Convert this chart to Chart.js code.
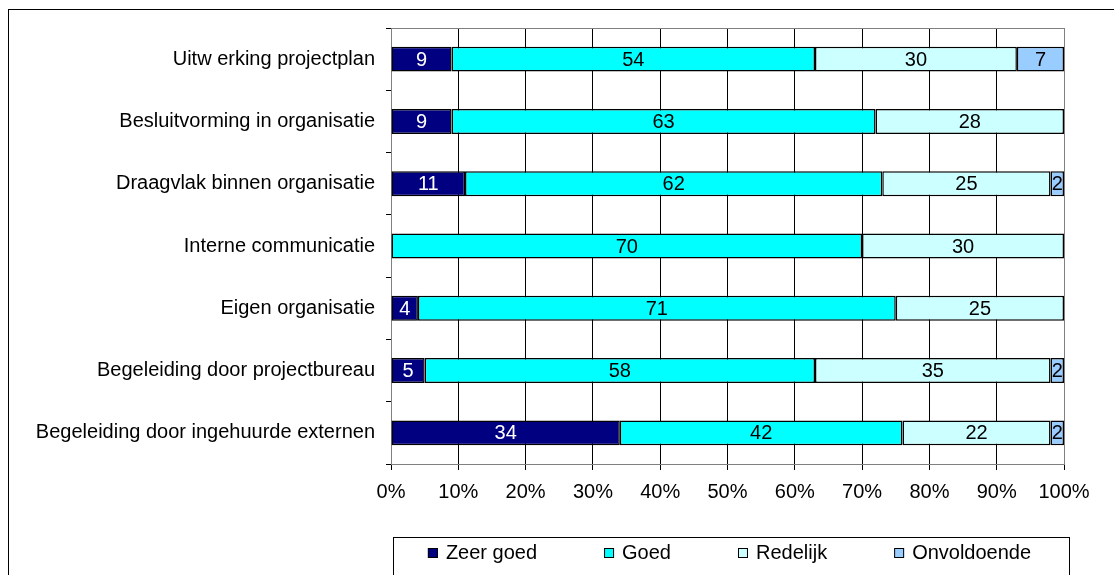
<!DOCTYPE html>
<html>
<head>
<meta charset="utf-8">
<script src="https://cdn.jsdelivr.net/npm/chart.js@4"></script>
<style>
  html, body { margin: 0; padding: 0; background: #fff; overflow: hidden; }
  #wrap { position: relative; width: 1114px; height: 575px; }
  #frame { position: absolute; left: 8px; top: 9px; width: 1200px; height: 700px; border: 1px solid #000; }
  canvas { position: absolute; left: 0; top: 0; }
</style>
</head>
<body>
<div id="wrap">
  <div id="frame"></div>
  <canvas id="chart" width="1114" height="575"></canvas>
</div>
<script>
// ---- Data ----
const categories = [
  'Uitw erking projectplan',
  'Besluitvorming in organisatie',
  'Draagvlak binnen organisatie',
  'Interne communicatie',
  'Eigen organisatie',
  'Begeleiding door projectbureau',
  'Begeleiding door ingehuurde externen'
];
const seriesNames = ['Zeer goed', 'Goed', 'Redelijk', 'Onvoldoende'];
const zeerGoed    = [9, 9, 11, 0, 4, 5, 34];
const goed        = [54, 63, 62, 70, 71, 58, 42];
const redelijk    = [30, 28, 25, 30, 25, 35, 22];
const onvoldoende = [7, 0, 2, 0, 0, 2, 2];
const xTicks = [0, 10, 20, 30, 40, 50, 60, 70, 80, 90, 100];

const colors = ['#000080', '#00FFFF', '#CCFFFF', '#99CCFF'];
const labelColors = ['#FFFFFF', '#000000', '#000000', '#000000'];
const FONT = '"Liberation Sans", Arial, sans-serif';

const datasets = [zeerGoed, goed, redelijk, onvoldoende].map((vals, i) => ({
  label: seriesNames[i],
  data: vals.map(v => v === 0 ? null : v),
  backgroundColor: colors[i],
  borderColor: '#000000',
  borderWidth: 1.5,
  borderSkipped: false,
  barPercentage: 0.4,
  categoryPercentage: 1.0
}));

// gray plot-area border behind the bars
const plotFrame = {
  id: 'plotFrame',
  beforeDatasetsDraw(chart) {
    const { ctx, chartArea: a } = chart;
    ctx.save();
    ctx.strokeStyle = '#808080';
    ctx.lineWidth = 1;
    ctx.strokeRect(a.left + 0.5, a.top + 0.5, a.right - a.left, a.bottom - a.top);
    ctx.restore();
  }
};

// value labels in the middle of every segment
const valueLabels = {
  id: 'valueLabels',
  afterDatasetsDraw(chart) {
    const { ctx } = chart;
    ctx.save();
    ctx.font = '20px ' + FONT;
    ctx.textAlign = 'center';
    ctx.textBaseline = 'middle';
    chart.data.datasets.forEach((ds, di) => {
      const meta = chart.getDatasetMeta(di);
      meta.data.forEach((bar, i) => {
        const v = ds.data[i];
        if (v == null) return;
        const p = bar.getProps(['x', 'y', 'base'], true);
        ctx.fillStyle = labelColors[di];
        ctx.fillText(String(v), (p.x + p.base) / 2, p.y + 1);
      });
    });
    ctx.restore();
  }
};

// boxed legend under the plot
const boxLegend = {
  id: 'boxLegend',
  afterDraw(chart) {
    const { ctx, chartArea: a } = chart;
    const gap = 67, sq = 10, txtGap = 8;
    ctx.save();
    ctx.font = '20px ' + FONT;
    const widths = chart.data.datasets.map(ds => sq + txtGap + ctx.measureText(ds.label).width);
    const total = widths.reduce((s, w) => s + w, 0) + gap * (widths.length - 1);
    const cy = 553;
    let x = (a.left + a.right) / 2 + 2 - total / 2;
    ctx.strokeStyle = '#000000';
    ctx.lineWidth = 1;
    ctx.strokeRect(a.left + 2.5, 537.5, a.right - a.left + 3, 80);
    ctx.textBaseline = 'middle';
    ctx.textAlign = 'left';
    chart.data.datasets.forEach((ds, i) => {
      ctx.fillStyle = ds.backgroundColor;
      ctx.fillRect(x, cy - sq / 2, sq, sq);
      ctx.strokeRect(x + 0.5, cy - sq / 2 + 0.5, sq - 1, sq - 1);
      ctx.fillStyle = '#000000';
      ctx.fillText(ds.label, x + sq + txtGap, cy);
      x += widths[i] + gap;
    });
    ctx.restore();
  }
};

new Chart(document.getElementById('chart'), {
  type: 'bar',
  data: { labels: categories, datasets },
  options: {
    indexAxis: 'y',
    responsive: false,
    animation: false,
    layout: { padding: { left: 0, top: 28, right: 50, bottom: 0 } },
    plugins: {
      legend: { display: false },
      tooltip: { enabled: false }
    },
    scales: {
      x: {
        stacked: true,
        min: 0,
        max: 100,
        afterFit(scale) { scale.height = 111; },
        afterBuildTicks(scale) { scale.ticks = xTicks.map(v => ({ value: v })); },
        ticks: {
          color: '#000000',
          font: { family: FONT, size: 20 },
          padding: 10,
          callback: v => v + '%'
        },
        grid: { color: '#000000', lineWidth: 1, tickLength: 6, drawTicks: true },
        border: { display: false }
      },
      y: {
        stacked: true,
        afterFit(scale) { scale.width = 391; },
        ticks: {
          color: '#000000',
          font: { family: FONT, size: 20 },
          padding: 11
        },
        grid: { offset: true, drawOnChartArea: false, color: '#000000', tickLength: 5 },
        border: { display: true, color: '#000000', width: 1 }
      }
    }
  },
  plugins: [plotFrame, valueLabels, boxLegend]
});
</script>
</body>
</html>
